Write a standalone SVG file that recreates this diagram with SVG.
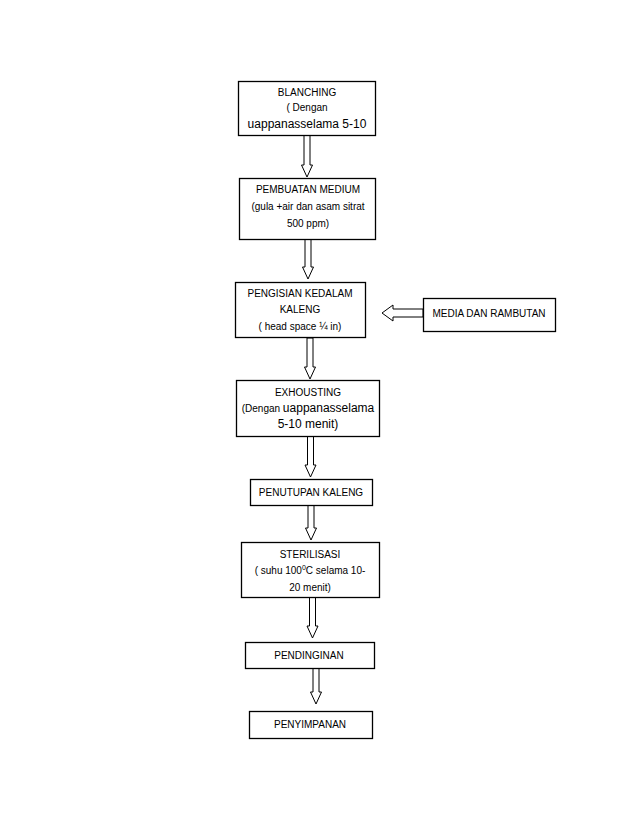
<svg xmlns="http://www.w3.org/2000/svg" width="638" height="826" viewBox="0 0 638 826">
<style>
.box{fill:#fff;stroke:#000;stroke-width:1.3}
.arr{fill:#fff;stroke:#000;stroke-width:1}
text{font-family:"Liberation Sans",Arial,sans-serif;font-size:10px;fill:#000;text-anchor:middle}
.big{font-size:12px}
</style>
<rect width="638" height="826" fill="#fff"/>
<g id="connectors">
<polygon class="arr" points="304,135 310,135 310,165 312.5,165 307,177 301.5,165 304,165"/>
<polygon class="arr" points="305,239 311,239 311,267 313.5,267 308,279 302.5,267 305,267"/>
<polygon class="arr" points="307,338 313,338 313,367 315.5,367 310,379 304.5,367 307,367"/>
<polygon class="arr" points="307.5,436 313.5,436 313.5,465 316,465 310.5,477 305,465 307.5,465"/>
<polygon class="arr" points="308,505 314,505 314,528 316.5,528 311,540 305.5,528 308,528"/>
<polygon class="arr" points="309.5,597 315.5,597 315.5,626 318,626 312.5,638 307,626 309.5,626"/>
<polygon class="arr" points="313,668 319,668 319,692 321.5,692 316,704 310.5,692 313,692"/>
<polygon class="arr" points="423,309 393,309 393,305 382,313 393,321 393,317 423,317"/>
</g>
<g id="blanching">
<rect class="box" x="238.5" y="81.5" width="137" height="54"/>
<text x="307" y="96">BLANCHING</text>
<text x="307" y="111">( Dengan</text>
<text class="big" x="307" y="128">uappanasselama 5-10</text>
</g>
<g id="pembuatan">
<rect class="box" x="239.5" y="178.5" width="136" height="61"/>
<text x="308" y="193">PEMBUATAN MEDIUM</text>
<text x="308" y="210">(gula +air dan asam sitrat</text>
<text x="308" y="227">500 ppm)</text>
</g>
<g id="pengisian">
<rect class="box" x="235.5" y="282.5" width="130" height="55"/>
<text x="300" y="297">PENGISIAN KEDALAM</text>
<text x="300" y="313">KALENG</text>
<text x="300" y="330">( head space ¼ in)</text>
</g>
<g id="media">
<rect class="box" x="423.5" y="298.5" width="132" height="33"/>
<text x="489" y="317">MEDIA DAN RAMBUTAN</text>
</g>
<g id="exhousting">
<rect class="box" x="236.5" y="380.5" width="143" height="56"/>
<text x="308" y="396">EXHOUSTING</text>
<text x="308" y="412"><tspan>(Dengan </tspan><tspan class="big">uappanasselama</tspan></text>
<text class="big" x="308" y="428">5-10 menit)</text>
</g>
<g id="penutupan">
<rect class="box" x="250.5" y="479.5" width="122" height="26"/>
<text x="311" y="496">PENUTUPAN KALENG</text>
</g>
<g id="sterilisasi">
<rect class="box" x="241.5" y="542.5" width="138" height="55"/>
<text x="310" y="558">STERILISASI</text>
<text x="310" y="574">( suhu 100<tspan font-size="7" dy="-4">0</tspan><tspan dy="4">C selama 10-</tspan></text>
<text x="310" y="591">20 menit)</text>
</g>
<g id="pendinginan">
<rect class="box" x="245.5" y="642.5" width="129" height="26"/>
<text x="309" y="659">PENDINGINAN</text>
</g>
<g id="penyimpanan">
<rect class="box" x="249.5" y="711.5" width="123" height="27"/>
<text x="310" y="728">PENYIMPANAN</text>
</g>
</svg>
